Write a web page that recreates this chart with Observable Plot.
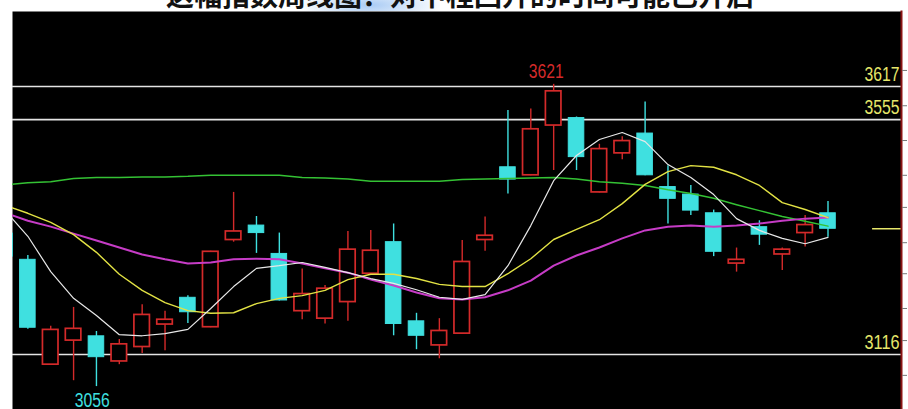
<!DOCTYPE html>
<html>
<head>
<meta charset="utf-8">
<script src="https://cdn.jsdelivr.net/npm/d3@7"></script>
<script src="https://cdn.jsdelivr.net/npm/@observablehq/plot@0.6"></script>
<style>
  html, body { margin: 0; padding: 0; background: #fff; }
  #wrap { position: relative; width: 908px; height: 409px; overflow: hidden; }
  #chart { position: absolute; left: 0; top: 0; }
  #titleBox { position: absolute; left: 0; top: 0; width: 908px; height: 11px; overflow: hidden; }
  #smudge { position: absolute; left: 300px; top: -12px; width: 140px; height: 34px;
    background: radial-gradient(ellipse at center, rgba(140,185,240,0.75) 0%, rgba(170,205,245,0.4) 45%, rgba(255,255,255,0) 75%); }
  #title { position: absolute; left: 6px; top: -20px; width: 908px; text-align: center;
    font-family: "Noto Sans CJK SC", sans-serif; font-weight: 700; font-size: 28px; line-height: 28px; color: #111; white-space: nowrap; }
</style>
</head>
<body>
<div id="wrap">
  <div id="chart"></div>
  <div id="titleBox"><div id="smudge"></div><div id="title">这幅指数周线图：对中程回升的时间可能已开启</div></div>
</div>
<script>
// Weekly candles (index points)
const opens  = [3342,3293,3097,3142,3150,3103,3130,3172,3222,3167,3330,3357,3304,3197,3183,3214,3267,3326,3178,3133,3155,3330,3466,3451,3544,3558,3419,3492,3529,3429,3415,3380,3286,3354,3303,3343,3380];
const highs  = [3346,3301,3169,3204,3159,3144,3209,3197,3226,3309,3419,3374,3343,3276,3245,3346,3348,3360,3193,3183,3329,3373,3572,3575,3621,3560,3509,3523,3588,3469,3432,3386,3315,3366,3315,3376,3402];
const lows   = [3296,3163,3096,3067,3056,3097,3118,3123,3174,3166,3326,3305,3216,3181,3173,3178,3266,3151,3125,3108,3154,3309,3416,3450,3460,3460,3418,3480,3450,3360,3376,3299,3270,3320,3273,3317,3335];
const closes = [3299,3166,3162,3164,3111,3135,3190,3181,3195,3308,3346,3343,3217,3229,3239,3312,3310,3173,3151,3160,3289,3338,3443,3537,3608,3485,3500,3515,3451,3407,3385,3308,3293,3340,3312,3358,3351];

// Moving averages
const ma5  = [3385,3337,3271,3221,3189,3153,3151,3155,3163,3202,3243,3277,3282,3288,3279,3269,3258,3249,3237,3223,3219,3228,3282,3357,3441,3488,3518,3531,3514,3471,3447,3415,3370,3348,3333,3323,3335];
const ma10 = [3395,3380,3363,3340,3307,3266,3236,3213,3198,3193,3194,3211,3221,3226,3236,3256,3266,3266,3258,3247,3243,3243,3267,3295,3331,3350,3368,3398,3434,3458,3469,3466,3452,3432,3400,3387,3372];
const ma20 = [3381,3366,3355,3342,3329,3316,3303,3294,3286,3288,3294,3295,3294,3286,3277,3269,3256,3245,3232,3221,3219,3223,3236,3254,3282,3301,3316,3333,3348,3355,3357,3355,3357,3361,3366,3370,3372];
const ma60 = [3433,3437,3439,3445,3447,3447,3448,3448,3449,3451,3451,3451,3451,3447,3446,3444,3440,3440,3440,3440,3443,3444,3445,3446,3447,3444,3439,3436,3432,3424,3417,3408,3396,3385,3374,3365,3356];

// Horizontal reference levels and right-axis tick values
const refLevels = [3617, 3555, 3116];
const rightTicks = [3647, 3581, 3516, 3451, 3391, 3325, 3267, 3202, 3142, 3077];
const markSpan = [37.95, 39.4]; // slots to the right of the last candle

const weeks = opens.map((_, i) => i);
const candles = weeks.map(i => ({i, o: opens[i], h: highs[i], l: lows[i], c: closes[i], up: closes[i] >= opens[i]}));
const iMax = d3.maxIndex(highs), iMin = d3.minIndex(lows);

const RED = "#d42a2a", CYAN = "#3fe0e0", YEL = "#e6e66a";
const numFont = "'Liberation Sans', Arial, sans-serif";

const maLine = (arr, color, w) => Plot.line(weeks, {x: i => i, y: i => arr[i], stroke: color, strokeWidth: w, clip: true});

const chart = Plot.plot({
  width: 908,
  height: 409,
  marginLeft: 12,
  marginTop: 11,
  marginRight: 7,
  marginBottom: 0,
  style: {background: "transparent", fontFamily: numFont},
  x: {domain: [0, 36], range: [4.5, 827.5], axis: null},
  y: {domain: [3116, 3617], range: [354, 86]},
  marks: [
    Plot.frame({fill: "black"}),
    Plot.ruleY(refLevels, {y: d => d, stroke: "#e4e4e4", strokeWidth: 1.6}),
    Plot.text(refLevels, {y: d => d, text: d => String(d), frameAnchor: "right", textAnchor: "end", dx: -2, dy: -12, fill: YEL, fontSize: 20}),
    Plot.ruleX(candles, {x: "i", y1: "l", y2: "h", stroke: d => d.up ? RED : CYAN, strokeWidth: 1.4, clip: true}),
    Plot.rect(candles, {x1: d => d.i - 0.34, x2: d => d.i + 0.34, y1: "o", y2: "c",
      fill: d => d.up ? "black" : CYAN, stroke: d => d.up ? RED : CYAN, strokeWidth: d => d.up ? 1.7 : 1, clip: true}),
    maLine(ma60, "#34c234", 1.5),
    maLine(ma20, "#c63cc6", 2),
    maLine(ma10, "#e2e244", 1.4),
    maLine(ma5, "#e8e8e8", 1.2),
    Plot.ruleY([closes[closes.length - 1]], {y: d => d, x1: markSpan[0], x2: markSpan[1], stroke: YEL, strokeWidth: 1.5, clip: true}),
    Plot.text([iMax], {x: i => i, y: i => highs[i], text: i => String(highs[i]), fill: RED, fontSize: 20, dx: -7.5, dy: -13}),
    Plot.text([iMin], {x: i => i, y: i => lows[i], text: i => String(lows[i]), fill: CYAN, fontSize: 20, dx: -4.3, dy: 14}),
    Plot.frame({anchor: "right", stroke: "#8a1414", strokeWidth: 2}),
    Plot.axisY(rightTicks, {anchor: "right", tickSize: 5, tickFormat: () => "", stroke: "#777"})
  ]
});
// condense the numeric labels to the narrow look of the original
chart.querySelectorAll("text").forEach(t => {
  if (/^\d{4}$/.test(t.textContent.trim())) {
    t.setAttribute("textLength", 35);
    t.setAttribute("lengthAdjust", "spacingAndGlyphs");
  }
});
document.getElementById("chart").appendChild(chart);
</script>
</body>
</html>
